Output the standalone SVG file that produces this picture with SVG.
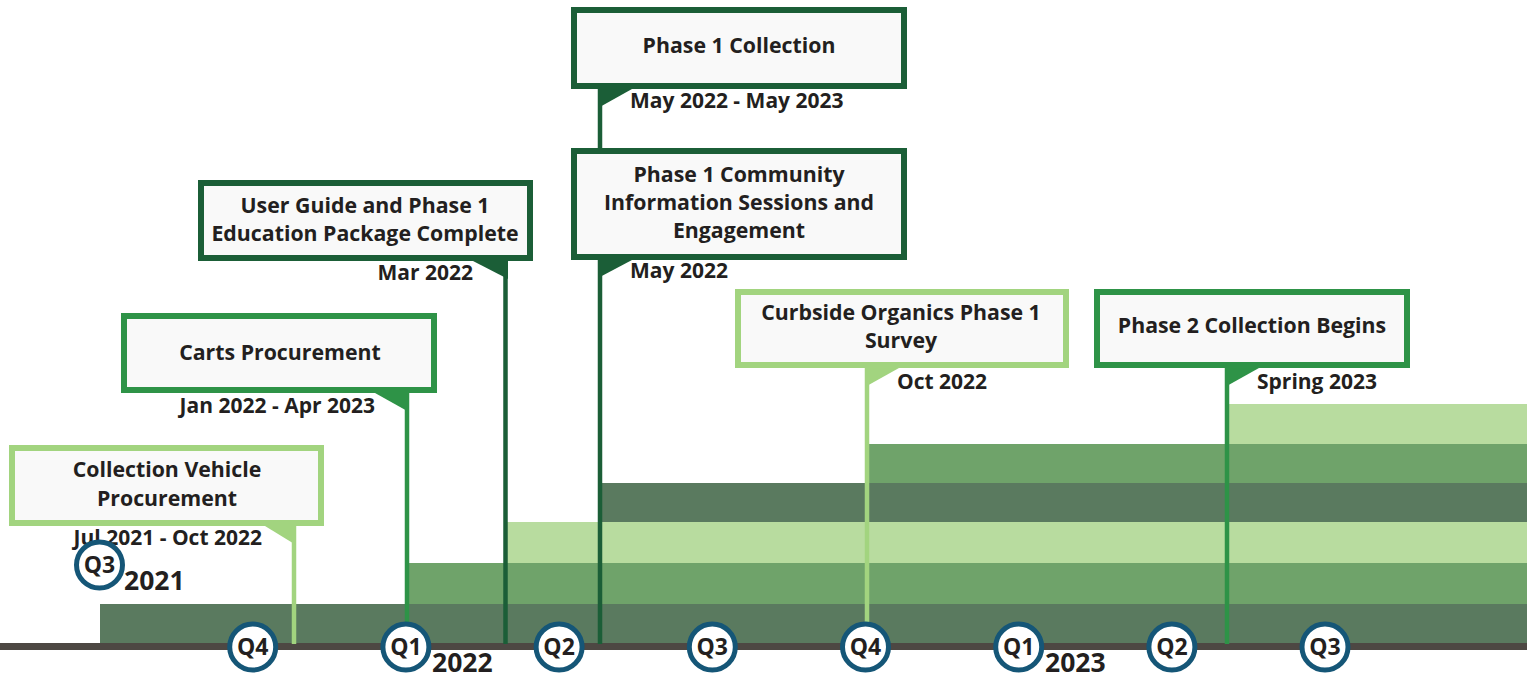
<svg xmlns="http://www.w3.org/2000/svg" width="1527" height="674" viewBox="0 0 1527 674">
<style>
text{font-family:"Open Sans","Noto Sans","Liberation Sans",sans-serif;font-weight:700;fill:#231f20}
.bt{font-size:21.3px;text-anchor:middle}
.dt{font-size:21px}
.q{font-size:23px;text-anchor:middle}
.yr{font-size:26.5px}
.box{fill:#f9f9f9;stroke-width:6}
.dk{stroke:#1b5e37}.md{stroke:#2e9347}.lt{stroke:#a2d47f}
.fdk{fill:#1b5e37}.fmd{fill:#2e9347}.flt{fill:#a2d47f}
.b1{fill:#5a7a5f}.b2{fill:#6fa36a}.b3{fill:#b8dc9f}
.qc{fill:#fff;stroke:#155677;stroke-width:5}
</style>
<rect width="1527" height="674" fill="#fff"/>
<g id="bands">
<rect class="b1" x="100" y="604" width="1427" height="41"/>
<rect class="b2" x="408" y="563" width="1119" height="41"/>
<rect class="b3" x="507" y="522" width="1020" height="41"/>
<rect class="b1" x="601" y="483" width="926" height="39"/>
<rect class="b2" x="867" y="444" width="660" height="39"/>
<rect class="b3" x="1228" y="404" width="299" height="40"/>
</g>
<rect id="axis" x="0" y="643" width="1527" height="7" fill="#4d4843"/>
<g id="connectors" stroke-width="4.5">
<line class="lt" x1="294" y1="524" x2="294" y2="644"/>
<line class="md" x1="407" y1="392" x2="407" y2="644"/>
<line class="dk" x1="505.5" y1="259" x2="505.5" y2="644"/>
<line class="dk" x1="600" y1="87" x2="600" y2="152"/>
<line class="dk" x1="600" y1="258" x2="600" y2="644"/>
<line class="lt" x1="867" y1="366" x2="867" y2="644"/>
<line class="md" x1="1227" y1="366" x2="1227" y2="644"/>
</g>
<g id="n-vehicle">
<rect class="box lt" x="12" y="448" width="309" height="75"/>
<polygon class="flt" points="265,526 296,526 296,545"/>
<text class="bt" x="167" y="477">Collection Vehicle</text>
<text class="bt" x="167" y="506">Procurement</text>
<text class="dt" x="262" y="545" text-anchor="end">Jul 2021 - Oct 2022</text>
</g>
<g id="n-carts">
<rect class="box md" x="124" y="316" width="310" height="74"/>
<polygon class="fmd" points="375,393 409,393 409,412"/>
<text class="bt" x="280" y="360">Carts Procurement</text>
<text class="dt" x="375" y="413" text-anchor="end">Jan 2022 - Apr 2023</text>
</g>
<g id="n-userguide">
<rect class="box dk" x="201" y="183" width="329" height="75"/>
<polygon class="fdk" points="473,261 508,261 508,279"/>
<text class="bt" x="365" y="213">User Guide and Phase 1</text>
<text class="bt" x="365" y="241">Education Package Complete</text>
<text class="dt" x="473" y="280" text-anchor="end">Mar 2022</text>
</g>
<g id="n-phase1collection">
<rect class="box dk" x="574" y="10" width="330" height="76"/>
<polygon class="fdk" points="598,89 632,89 598,108"/>
<text class="bt" x="739" y="53">Phase 1 Collection</text>
<text class="dt" x="630" y="108">May 2022 - May 2023</text>
</g>
<g id="n-community">
<rect class="box dk" x="574" y="151" width="330" height="106"/>
<polygon class="fdk" points="598,260 632,260 598,278"/>
<text class="bt" x="739" y="182">Phase 1 Community</text>
<text class="bt" x="739" y="210">Information Sessions and</text>
<text class="bt" x="739" y="238">Engagement</text>
<text class="dt" x="630" y="278">May 2022</text>
</g>
<g id="n-survey">
<rect class="box lt" x="738" y="292" width="328" height="73"/>
<polygon class="flt" points="865,368 899,368 865,387"/>
<text class="bt" x="901" y="320">Curbside Organics Phase 1</text>
<text class="bt" x="901" y="348">Survey</text>
<text class="dt" x="897" y="389">Oct 2022</text>
</g>
<g id="n-phase2">
<rect class="box md" x="1097" y="292" width="310" height="73"/>
<polygon class="fmd" points="1225,368 1259,368 1225,387"/>
<text class="bt" x="1252" y="333">Phase 2 Collection Begins</text>
<text class="dt" x="1257" y="389">Spring 2023</text>
</g>
<g id="quarters">
<circle class="qc" cx="99.5" cy="565" r="23"/><text class="q" x="99.5" y="573">Q3</text>
<circle class="qc" cx="252.7" cy="647" r="23"/><text class="q" x="252.7" y="655">Q4</text>
<circle class="qc" cx="405.9" cy="647" r="23"/><text class="q" x="405.9" y="655">Q1</text>
<circle class="qc" cx="559.1" cy="647" r="23"/><text class="q" x="559.1" y="655">Q2</text>
<circle class="qc" cx="712.3" cy="647" r="23"/><text class="q" x="712.3" y="655">Q3</text>
<circle class="qc" cx="865.5" cy="647" r="23"/><text class="q" x="865.5" y="655">Q4</text>
<circle class="qc" cx="1018.7" cy="647" r="23"/><text class="q" x="1018.7" y="655">Q1</text>
<circle class="qc" cx="1171.9" cy="647" r="23"/><text class="q" x="1171.9" y="655">Q2</text>
<circle class="qc" cx="1325" cy="647" r="23"/><text class="q" x="1325" y="655">Q3</text>
</g>
<g id="years">
<text class="yr" x="124" y="590">2021</text>
<text class="yr" x="432" y="672">2022</text>
<text class="yr" x="1045" y="672">2023</text>
</g>
</svg>
